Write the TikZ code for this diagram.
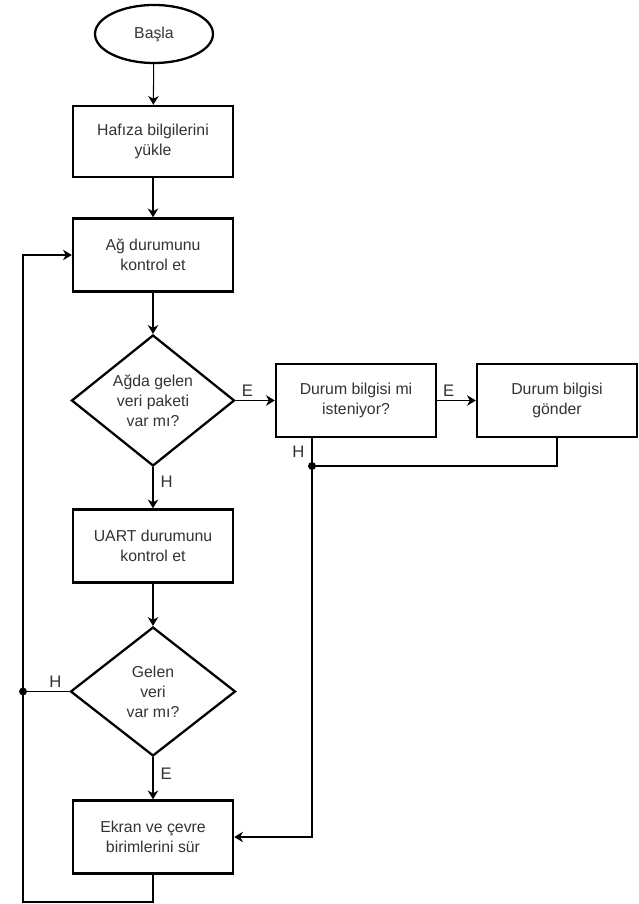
\documentclass[tikz,border=0pt]{standalone}
\usepackage{fontspec}
\setmainfont{Liberation Sans}
\usetikzlibrary{
arrows.meta,
positioning,
shapes
}
\tikzset{>=Stealth}

\begin{document}
\begin{tikzpicture}[font=\fontsize{9}{11.3}\selectfont]
		\colorlet{textcolor}{black!80}
		\tikzset{boxn/.style={shape=rectangle,draw,line width=1.4pt,minimum width=3.2cm,minimum height=1.46cm,align=center,text=textcolor}}
		\tikzset{decn/.style={shape=diamond,draw,line width=1.3pt,inner sep=0pt,shape aspect=1.25,align=center,text=textcolor}}
		\tikzset{flow/.style={->,line width=0.6pt,>={Stealth[length=5pt,width=6pt]}}}
		\tikzset{link/.style={line width=0.6pt}}
		\tikzset{lbl/.style={text=textcolor,inner sep=2pt,font=\fontsize{9.5}{11}\selectfont}}
		\tikzset{dotn/.style={shape=circle,fill=black,inner sep=0pt,minimum size=4.5pt}}

		\useasboundingbox (0,0) rectangle (12.76,-18.08);

		% Start
		\node[shape=ellipse,draw,line width=1.3pt,minimum width=2.36cm,minimum height=1.16cm,text=textcolor] (start) at (3.08,-0.68) {Başla};

		% Main column
		\node[boxn,minimum height=1.42cm] (load) at (3.06,-2.83) {Hafıza bilgilerini\\ yükle};
		\node[boxn] (netcheck) at (3.06,-5.10) {Ağ durumunu\\ kontrol et};
		\node[decn,minimum width=3.26cm,minimum height=2.62cm] (netdec) at (3.06,-8.01) {Ağda gelen\\ veri paketi\\ var mı?};
		\node[boxn] (uart) at (3.06,-10.92) {UART durumunu\\ kontrol et};
		\node[decn,minimum width=3.3cm,minimum height=2.58cm] (uartdec) at (3.06,-13.83) {Gelen\\ veri\\ var mı?};
		\node[boxn] (drive) at (3.06,-16.74) {Ekran ve çevre\\ birimlerini sür};

		% Status request branch
		\node[boxn] (reqbox) at (7.12,-8.01) {Durum bilgisi mi\\ isteniyor?};
		\node[boxn] (sendbox) at (11.14,-8.01) {Durum bilgisi\\ gönder};

		% Junctions
		\node[dotn] (joinreq) at (6.24,-9.32) {};
		\node[dotn] (joinuart) at (0.46,-13.83) {};
		\coordinate (loopb) at (3.06,-18.04);

		\draw[flow] (start) -- (load);
		\draw[flow] (load) -- (netcheck);
		\draw[flow] (netdec.south) -- node[lbl,pos=0.35,right=2pt] {H} (uart.north);
		\draw[flow] (netcheck) -- (netdec);
		\draw[flow] (uart) -- (uartdec);
		\draw[flow] (uartdec.south) -- node[lbl,pos=0.4,right=2pt] {E} (drive.north);

		\draw[flow] (netdec.east) -- node[lbl,pos=0.3,above] {E} (reqbox.west);
		\draw[flow] (reqbox.east) -- node[lbl,pos=0.3,above] {E} (sendbox.west);
		\draw[link] (reqbox.south -| joinreq) -- node[lbl,pos=0.5,left=2pt] {H} (joinreq.center);
		\draw[link] (sendbox.south) |- (joinreq.center);
		\draw[flow] (joinreq.center) |- (drive.east);

		\draw[link] (uartdec.west) -- node[lbl,pos=0.3,above] {H} (joinuart.center);
		\draw[link] (drive.south) -- (loopb) -| (joinuart.center);
		\draw[flow] (joinuart.center) |- (netcheck.west);
	\end{tikzpicture}
\end{document}
